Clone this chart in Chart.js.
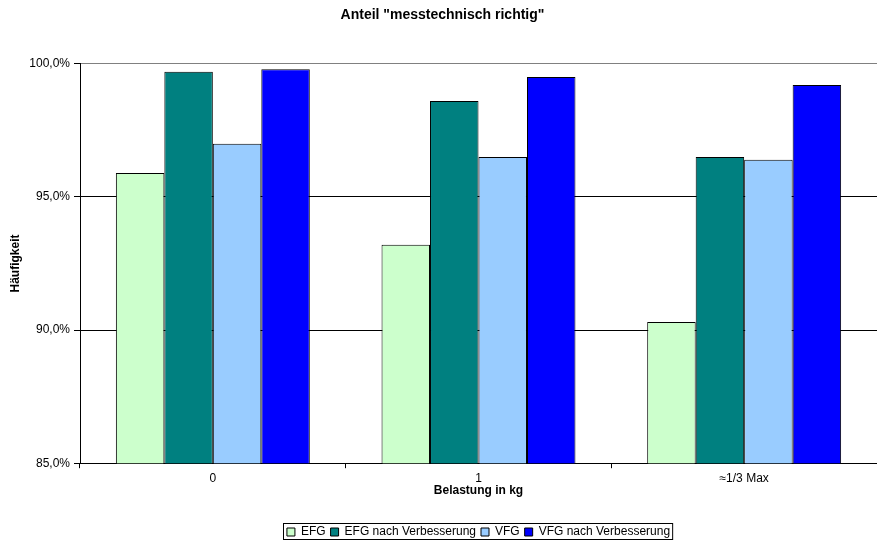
<!DOCTYPE html>
<html>
<head>
<meta charset="utf-8">
<script src="https://cdn.jsdelivr.net/npm/chart.js@4"></script>
<style>
  html, body { margin: 0; padding: 0; background: #fff; }
  #wrap { width: 877px; height: 540px; }
</style>
</head>
<body>
<div id="wrap"><canvas id="chart" width="877" height="540"></canvas></div>
<script>
// categories + series
const categories = ["0", "1", "≈1/3 Max"];
const efg = [95.9, 93.2, 90.3];
const efgNachVerbesserung = [99.7, 98.6, 96.5];
const vfg = [97.0, 96.5, 96.4];
const vfgNachVerbesserung = [99.8, 99.5, 99.2];
const yTicks = [85, 90, 95, 100];

const FONT = "'Liberation Sans', Arial, sans-serif";

// legend sits under the plot centre, with a black frame round it
const legendFrame = {
  id: "legendFrame",
  afterLayout(chart) {
    const lg = chart.legend;
    const shift = (chart.chartArea.left + chart.chartArea.right) / 2 - (lg.left + lg.right) / 2;
    lg.left += shift;
    lg.right += shift;
  },
  afterDraw(chart) {
    const boxes = chart.legend.legendHitBoxes;
    if (!boxes || !boxes.length) return;
    let l = Infinity, r = -Infinity, t = Infinity, b = -Infinity;
    boxes.forEach((h) => {
      l = Math.min(l, h.left);
      r = Math.max(r, h.left + h.width);
      t = Math.min(t, h.top);
      b = Math.max(b, h.top + h.height);
    });
    const ctx = chart.ctx;
    ctx.save();
    ctx.strokeStyle = "#000";
    ctx.lineWidth = 1;
    ctx.strokeRect(Math.round(l) - 3.5, Math.round(t) - 2.5, r - l + 6, b - t + 4);
    ctx.restore();
  },
};

const mkSet = (label, data, color) => ({
  label,
  data,
  backgroundColor: color,
  borderColor: "#000",
  borderWidth: 1,
  barPercentage: 1,
  categoryPercentage: 0.73,
});

const ctx = document.getElementById("chart");
new Chart(ctx, {
  type: "bar",
  data: {
    labels: categories,
    datasets: [
      mkSet("EFG", efg, "#CCFFCC"),
      mkSet("EFG nach Verbesserung", efgNachVerbesserung, "#008080"),
      mkSet("VFG", vfg, "#99CCFF"),
      mkSet("VFG nach Verbesserung", vfgNachVerbesserung, "#0000FF"),
    ],
  },
  options: {
    responsive: false,
    animation: false,
    layout: { padding: { left: 8, right: 0, top: 0, bottom: -8 } },
    plugins: {
      tooltip: { enabled: false },
      title: {
        display: true,
        text: 'Anteil "messtechnisch richtig"',
        color: "#000",
        font: { family: FONT, size: 14, weight: "bold" },
        padding: { top: 7, bottom: 40 },
      },
      legend: {
        position: "bottom",
        labels: {
          color: "#000",
          font: { family: FONT, size: 12 },
          boxWidth: 8,
          boxHeight: 8,
          padding: 5,
        },
      },
    },
    scales: {
      x: {
        border: { color: "#000" },
        grid: {
          drawOnChartArea: false,
          drawTicks: true,
          tickLength: 5,
          color: "#000",
        },
        ticks: { color: "#000", font: { family: FONT, size: 12 }, padding: 3 },
        title: {
          display: true,
          text: "Belastung in kg",
          color: "#000",
          font: { family: FONT, size: 12, weight: "bold" },
          padding: { top: -5, bottom: 23 },
        },
      },
      y: {
        min: yTicks[0],
        max: yTicks[yTicks.length - 1],
        afterBuildTicks: (s) => { s.ticks = yTicks.map((v) => ({ value: v })); },
        afterFit: (s) => { s.width = 72; },
        border: { color: "#000" },
        grid: {
          color: (c) => (c.tick && c.tick.value === 100 ? "#808080" : "#000"),
          tickLength: 6,
          tickColor: "#000",
        },
        ticks: {
          color: "#000",
          font: { family: FONT, size: 12 },
          padding: 4,
          callback: (v) => v.toFixed(1).replace(".", ",") + "%",
        },
        title: {
          display: true,
          text: "Häufigkeit",
          color: "#000",
          font: { family: FONT, size: 12, weight: "bold" },
          padding: { top: 0, bottom: 14 },
        },
      },
    },
  },
  plugins: [legendFrame],
});
</script>
</body>
</html>
